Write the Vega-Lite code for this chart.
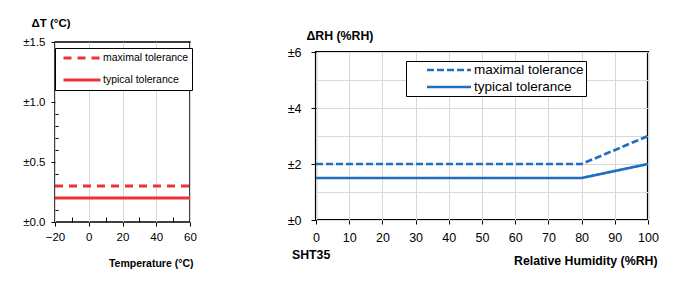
{
  "$schema": "https://vega.github.io/schema/vega-lite/v6.json",
  "background": "white",
  "padding": {"left": 21, "top": 16, "right": 0, "bottom": 0},
  "config": {
    "font": "Liberation Sans, Arial, sans-serif",
    "axis": {"labelColor": "black", "titleColor": "black", "tickColor": "black", "domain": false, "gridColor": "#d9d9d9", "gridWidth": 1, "labelFlush": false},
    "legend": {"labelColor": "black"}
  },
  "bounds": "flush",
  "spacing": 126,
  "resolve": {"scale": {"color": "independent", "strokeDash": "independent"}, "legend": {"color": "independent", "strokeDash": "independent"}},
  "hconcat": [
    {
      "width": 135,
      "height": 180,
      "view": {"stroke": "black", "strokeWidth": 1.5},
      "data": {"values": [
        {"series": "maximal tolerance", "temp": -20, "dT": 0.3},
        {"series": "maximal tolerance", "temp": 60, "dT": 0.3},
        {"series": "typical tolerance", "temp": -20, "dT": 0.2},
        {"series": "typical tolerance", "temp": 60, "dT": 0.2}
      ]},
      "encoding": {
        "color": {"field": "series", "type": "nominal", "scale": {"domain": ["maximal tolerance", "typical tolerance"], "range": ["#ee3338", "#ee3338"]},
          "legend": {"title": null, "orient": "none", "legendX": 0, "legendY": 6, "strokeColor": "black", "fillColor": "white", "padding": 3, "symbolType": "stroke", "symbolSize": 1369, "symbolStrokeWidth": 3, "symbolOffset": 4, "labelOffset": 1, "labelFontSize": 10.5, "clipHeight": 14, "rowPadding": 8}},
        "strokeDash": {"field": "series", "type": "nominal", "scale": {"domain": ["maximal tolerance", "typical tolerance"], "range": [[8, 6], [1, 0]]},
          "legend": {"title": null, "orient": "none", "legendX": 0, "legendY": 6, "strokeColor": "black", "fillColor": "white", "padding": 3, "symbolType": "stroke", "symbolSize": 1369, "symbolStrokeWidth": 3, "symbolOffset": 4, "labelOffset": 1, "labelFontSize": 10.5, "clipHeight": 14, "rowPadding": 8}}
      },
      "resolve": {"axis": {"x": "independent", "y": "independent"}},
      "layer": [
        {
          "transform": [{"filter": "datum.series === 'maximal tolerance'"}],
          "mark": {"type": "line", "strokeWidth": 3},
          "encoding": {
            "x": {"field": "temp", "type": "quantitative", "scale": {"domain": [-20, 60], "nice": false},
              "axis": {"orient": "bottom", "values": [-20, 0, 20, 40, 60], "grid": true, "tickSize": 4, "labelFontSize": 11.5, "labelPadding": 5,
                "title": "Temperature (°C)", "titleFontSize": 10.5, "titleFontWeight": "bold", "titleAlign": "right", "titleBaseline": "middle", "titleX": 138, "titleY": 41}},
            "y": {"field": "dT", "type": "quantitative", "scale": {"domain": [0, 1.5], "nice": false},
              "axis": {"orient": "left", "values": [0, 0.5, 1, 1.5], "grid": false, "tickSize": 4, "labelFontSize": 11.5, "labelPadding": 6, "labelExpr": "'±' + format(datum.value, '.1f')",
                "title": "ΔT (°C)", "titleAngle": 0, "titleFontSize": 11.5, "titleFontWeight": "bold", "titleAlign": "left", "titleBaseline": "middle", "titleX": -24, "titleY": -19}}
          }
        },
        {
          "transform": [{"filter": "datum.series === 'typical tolerance'"}],
          "mark": {"type": "line", "strokeWidth": 3},
          "encoding": {
            "x": {"field": "temp", "type": "quantitative", "scale": {"domain": [-20, 60], "nice": false},
              "axis": {"orient": "bottom", "values": [-10, 10, 30, 50], "grid": false, "tickSize": -5, "labels": false, "title": null}},
            "y": {"field": "dT", "type": "quantitative", "scale": {"domain": [0, 1.5], "nice": false},
              "axis": {"orient": "left", "values": [0.1, 0.2, 0.3, 0.4, 0.6, 0.7, 0.8, 0.9, 1.1, 1.2, 1.3, 1.4], "grid": false, "tickSize": -3, "labels": false, "title": null}}
          }
        }
      ]
    },
    {
      "bounds": "flush",
      "spacing": 0,
      "resolve": {"scale": {"color": "independent", "strokeDash": "independent"}, "legend": {"color": "independent", "strokeDash": "independent"}},
      "vconcat": [
        {
          "width": 332,
          "height": 10,
          "view": {"stroke": null},
          "data": {"values": [{}]},
          "mark": {"type": "point", "opacity": 0}
        },
        {
          "width": 332,
          "height": 168,
          "view": {"stroke": "black", "strokeWidth": 2.2},
          "title": {"text": "SHT35", "orient": "bottom", "anchor": "start", "frame": "group", "dx": -24, "dy": -21, "fontSize": 12.3, "fontWeight": "bold", "color": "black"},
          "data": {"values": [
            {"series": "maximal tolerance", "rh": 0, "dRH": 2},
            {"series": "maximal tolerance", "rh": 80, "dRH": 2},
            {"series": "maximal tolerance", "rh": 100, "dRH": 3},
            {"series": "typical tolerance", "rh": 0, "dRH": 1.5},
            {"series": "typical tolerance", "rh": 80, "dRH": 1.5},
            {"series": "typical tolerance", "rh": 100, "dRH": 2}
          ]},
          "encoding": {
            "color": {"field": "series", "type": "nominal", "scale": {"domain": ["maximal tolerance", "typical tolerance"], "range": ["#1f6fbf", "#1f6fbf"]},
              "legend": {"title": null, "orient": "none", "legendX": 90, "legendY": 9, "strokeColor": "black", "fillColor": "white", "padding": 2, "symbolType": "stroke", "symbolSize": 1936, "symbolStrokeWidth": 2.7, "symbolOffset": 17.5, "labelOffset": 1.5, "labelFontSize": 13.5, "clipHeight": 14, "rowPadding": 3}},
            "strokeDash": {"field": "series", "type": "nominal", "scale": {"domain": ["maximal tolerance", "typical tolerance"], "range": [[7, 3], [1, 0]]},
              "legend": {"title": null, "orient": "none", "legendX": 90, "legendY": 9, "strokeColor": "black", "fillColor": "white", "padding": 2, "symbolType": "stroke", "symbolSize": 1936, "symbolStrokeWidth": 2.7, "symbolOffset": 17.5, "labelOffset": 1.5, "labelFontSize": 13.5, "clipHeight": 14, "rowPadding": 3}}
          },
          "resolve": {"axis": {"x": "independent", "y": "independent"}},
          "layer": [
            {
              "transform": [{"filter": "datum.series === 'maximal tolerance'"}],
              "mark": {"type": "line", "strokeWidth": 2.7},
              "encoding": {
                "x": {"field": "rh", "type": "quantitative", "scale": {"domain": [0, 100], "nice": false},
                  "axis": {"orient": "bottom", "values": [0, 10, 20, 30, 40, 50, 60, 70, 80, 90, 100], "grid": true, "tickSize": 4, "labelFontSize": 12.5, "labelPadding": 7,
                    "title": "Relative Humidity (%RH)", "titleFontSize": 12.3, "titleFontWeight": "bold", "titleAlign": "right", "titleBaseline": "middle", "titleX": 341, "titleY": 40}},
                "y": {"field": "dRH", "type": "quantitative", "scale": {"domain": [0, 6], "nice": false},
                  "axis": {"orient": "left", "values": [0, 2, 4, 6], "grid": false, "tickSize": 5, "labelFontSize": 12.5, "labelPadding": 10, "labelExpr": "'±' + datum.value",
                    "title": "ΔRH (%RH)", "titleAngle": 0, "titleFontSize": 12.3, "titleFontWeight": "bold", "titleAlign": "left", "titleBaseline": "middle", "titleX": -10, "titleY": -17}}
              }
            },
            {
              "transform": [{"filter": "datum.series === 'typical tolerance'"}],
              "mark": {"type": "line", "strokeWidth": 2.7},
              "encoding": {
                "x": {"field": "rh", "type": "quantitative", "scale": {"domain": [0, 100], "nice": false},
                  "axis": {"orient": "bottom", "values": [0, 10, 20, 30, 40, 50, 60, 70, 80, 90, 100], "grid": false, "ticks": false, "labels": false, "title": null}},
                "y": {"field": "dRH", "type": "quantitative", "scale": {"domain": [0, 6], "nice": false},
                  "axis": {"orient": "left", "values": [0, 1, 2, 3, 4, 5, 6], "grid": true, "ticks": false, "labels": false, "title": null}}
              }
            }
          ]
        }
      ]
    }
  ]
}
